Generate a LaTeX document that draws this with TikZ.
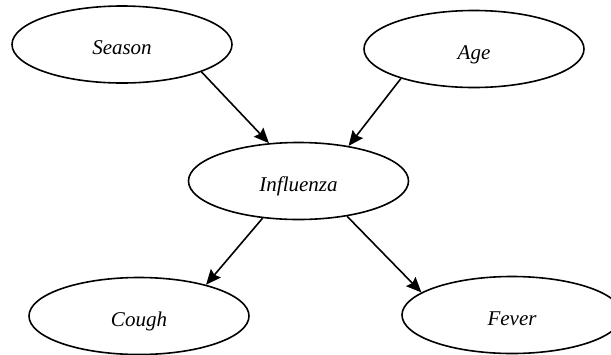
\documentclass[tikz,border=0pt]{standalone}
\usepackage{fontspec}
\setmainfont{Liberation Serif}
\usetikzlibrary{arrows.meta,shapes.geometric}
\begin{document}
\begin{tikzpicture}[x=1pt,y=-1pt,
  var/.style={ellipse,draw=black,line width=1.6pt,minimum width=220pt,minimum height=77pt,inner sep=0pt,text height=20pt,text depth=0pt,font=\fontsize{21}{24}\selectfont\itshape},
  edge/.style={line width=1.6pt,-{Stealth[length=15pt,width=13pt,inset=2pt]}}]
\clip (0,0) rectangle (611,354);
\fill[white] (0,0) rectangle (611,354);
\node[var] (season) at (122,44.5) {Season};
\node[var] (age) at (474,49) {Age};
\node[var] (flu) at (298.5,181) {Influenza};
\node[var] (cough) at (139,316) {Cough};
\node[var] (fever) at (512,315) {Fever};
\draw[edge] (season.-19) -- (flu.128);
\draw[edge] (age.202) -- (flu.35);
\draw[edge] (flu.226) -- (cough.25);
\draw[edge] (flu.-36) -- (fever.166);
\end{tikzpicture}
\end{document}
